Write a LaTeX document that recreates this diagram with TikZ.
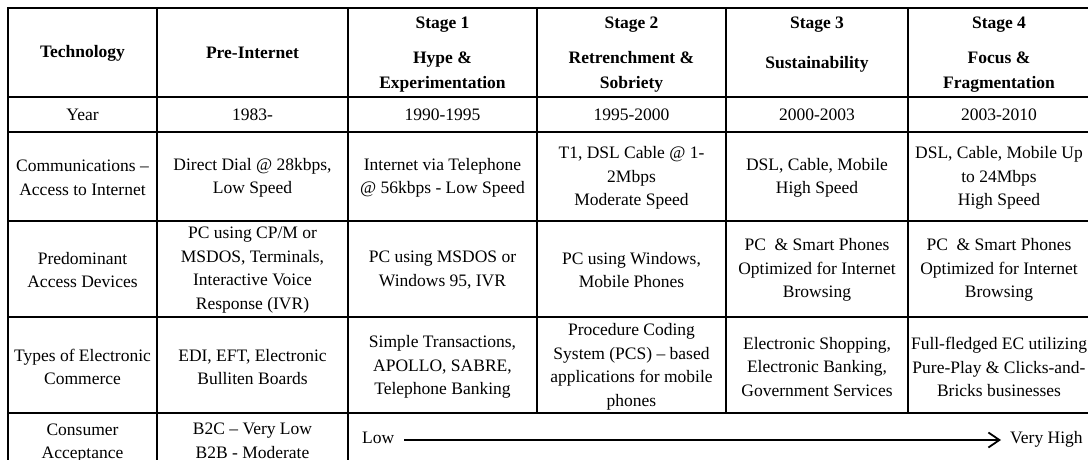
\documentclass[tikz,border=0pt]{standalone}
\usepackage{fontspec}
\setmainfont{Liberation Serif}
\usetikzlibrary{arrows.meta}

\begin{document}
\begin{tikzpicture}[x=1pt,y=-1pt,
  rule/.style={line width=2.6pt, line cap=rect},
  txt/.style={align=center, inner sep=0pt, font=\fontsize{17.5}{23.5}\selectfont},
  head/.style={align=center, inner sep=0pt, font=\fontsize{17.5}{24.5}\selectfont\bfseries},
  endlabel/.style={inner sep=0pt, text height=12pt, text depth=4pt, font=\fontsize{17.5}{23.5}\selectfont},
  trend/.style={line width=1.8pt, -{Straight Barb[length=11pt,width=15pt]}}]

\clip (0,0) rectangle (1088,460);

% table rules
\foreach \y in {8,97,132,221,317,413,475}
  \draw[rule] (8,\y) -- (1091,\y);
\foreach \x in {8,157,348,1091}
  \draw[rule] (\x,8) -- (\x,475);
\foreach \x in {537,726,908}
  \draw[rule] (\x,8) -- (\x,413);

% header row
\node[head] (hTech) at (82.5,53) {Technology};
\node[head] (hPre)  at (252.5,53) {Pre-Internet};
\node[head] (hS1)   at (442.5,25) {Stage 1};
\node[head] (hS1t)  at (442.5,72) {Hype \&\\Experimentation};
\node[head] (hS2)   at (631.5,25) {Stage 2};
\node[head] (hS2t)  at (631.5,72) {Retrenchment \&\\Sobriety};
\node[head] (hS3)   at (817,25) {Stage 3};
\node[head] (hS3t)  at (817,64) {Sustainability};
\node[head] (hS4)   at (999,25) {Stage 4};
\node[head] (hS4t)  at (999,72) {Focus \&\\Fragmentation};

% year row
\node[txt] (yL)  at (82.5,114.5) {Year};
\node[txt] (y0)  at (252.5,114.5) {1983-};
\node[txt] (y1)  at (442.5,114.5) {1990-1995};
\node[txt] (y2)  at (631.5,114.5) {1995-2000};
\node[txt] (y3)  at (817,114.5) {2000-2003};
\node[txt] (y4)  at (999,114.5) {2003-2010};

% communications row
\node[txt] (cL) at (82.5,178) {Communications --\\Access to Internet};
\node[txt] (c0) at (252.5,178) {Direct Dial @ 28kbps,\\Low Speed};
\node[txt] (c1) at (442.5,178) {Internet via Telephone\\@ 56kbps - Low Speed};
\node[txt] (c2) at (631.5,178) {T1, DSL Cable @ 1-\\2Mbps\\Moderate Speed};
\node[txt] (c3) at (817,178) {DSL, Cable, Mobile\\High Speed};
\node[txt] (c4) at (999,178) {DSL, Cable, Mobile Up\\to 24Mbps\\High Speed};

% access devices row
\node[txt] (dL) at (82.5,270) {Predominant\\Access Devices};
\node[txt] (d0) at (252.5,270) {PC using CP/M or\\MSDOS, Terminals,\\Interactive Voice\\Response (IVR)};
\node[txt] (d1) at (442.5,270) {PC using MSDOS or\\Windows 95, IVR};
\node[txt] (d2) at (631.5,270) {PC using Windows,\\Mobile Phones};
\node[txt] (d3) at (817,270) {PC \ \& Smart Phones\\Optimized for Internet\\Browsing};
\node[txt] (d4) at (999,270) {PC \ \& Smart Phones\\Optimized for Internet\\Browsing};

% electronic commerce row
\node[txt] (eL) at (82.5,367) {Types of Electronic\\Commerce};
\node[txt] (e0) at (252.5,367) {EDI, EFT, Electronic\\Bulliten Boards};
\node[txt] (e1) at (442.5,367) {Simple Transactions,\\APOLLO, SABRE,\\Telephone Banking};
\node[txt] (e2) at (631.5,367) {Procedure Coding\\System (PCS) -- based\\applications for mobile\\phones};
\node[txt] (e3) at (817,367) {Electronic Shopping,\\Electronic Banking,\\Government Services};
\node[txt] (e4) at (999,367) {Full-fledged EC utilizing\\Pure-Play \& Clicks-and-\\Bricks businesses};

% consumer acceptance row
\node[txt] (aL) at (82.5,443) {Consumer\\Acceptance};
\node[txt] (a0) at (252.5,441) {B2C -- Very Low\\B2B - Moderate};
\node[endlabel, anchor=west] (low)  at (362,439) {Low};
\node[endlabel, anchor=west] (high) at (1010,439) {Very High};
\draw[trend] ([xshift=10pt,yshift=-1pt]low.east) -- ([xshift=-9pt,yshift=-1pt]high.west);

\end{tikzpicture}
\end{document}
